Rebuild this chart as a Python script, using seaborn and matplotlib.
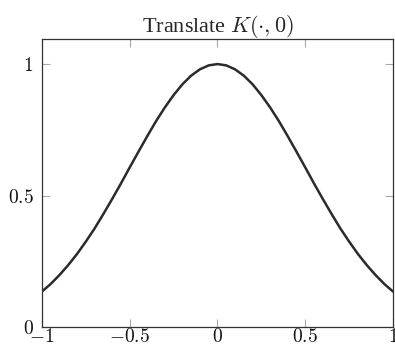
import matplotlib
matplotlib.use("Agg")
import matplotlib.pyplot as plt
import seaborn as sns

# curve values (x from -1 to 1, step 0.05)
x_vals = [-1.0, -0.95, -0.9, -0.85, -0.8, -0.75, -0.7, -0.65, -0.6, -0.55,
          -0.5, -0.45, -0.4, -0.35, -0.3, -0.25, -0.2, -0.15, -0.1, -0.05,
          0.0, 0.05, 0.1, 0.15, 0.2, 0.25, 0.3, 0.35, 0.4, 0.45,
          0.5, 0.55, 0.6, 0.65, 0.7, 0.75, 0.8, 0.85, 0.9, 0.95, 1.0]
k_vals = [0.135, 0.164, 0.198, 0.236, 0.278, 0.325, 0.375, 0.430, 0.487, 0.546,
          0.607, 0.667, 0.726, 0.783, 0.835, 0.882, 0.923, 0.956, 0.980, 0.995,
          1.000, 0.995, 0.980, 0.956, 0.923, 0.882, 0.835, 0.783, 0.726, 0.667,
          0.607, 0.546, 0.487, 0.430, 0.375, 0.325, 0.278, 0.236, 0.198, 0.164, 0.135]

x_ticks = [-1, -0.5, 0, 0.5, 1]
x_tick_labels = ["$-1$", "$-0.5$", "$0$", "$0.5$", "$1$"]
y_ticks = [0, 0.5, 1]
y_tick_labels = ["$0$", "$0.5$", "$1$"]

sns.set_style("ticks")
plt.rcParams["font.family"] = ["Liberation Serif", "DejaVu Serif"]
plt.rcParams["mathtext.fontset"] = "cm"

fig = plt.figure(figsize=(3.95, 3.49), dpi=100)
ax = fig.add_axes([0.1063, 0.063, 0.8886, 0.825])

sns.lineplot(x=x_vals, y=k_vals, ax=ax, color="#2b2b2b", linewidth=1.8)

ax.set_xlim(-1, 1)
ax.set_ylim(0, 1.095)
ax.set_xticks(x_ticks)
ax.set_xticklabels(x_tick_labels)
ax.set_yticks(y_ticks)
ax.set_yticklabels(y_tick_labels)

ax.tick_params(direction="in", top=True, right=True, length=6, width=0.8,
               color="#a8a8a8", labelsize=14, labelcolor="#111111")
ax.tick_params(axis="x", pad=1)
ax.tick_params(axis="y", pad=6)
for s in ax.spines.values():
    s.set_color("#333333")
    s.set_linewidth(0.9)

ax.set_title(r"Translate $K(\cdot,0)$", fontsize=16, pad=5)

fig.savefig("out.png", dpi=100)
